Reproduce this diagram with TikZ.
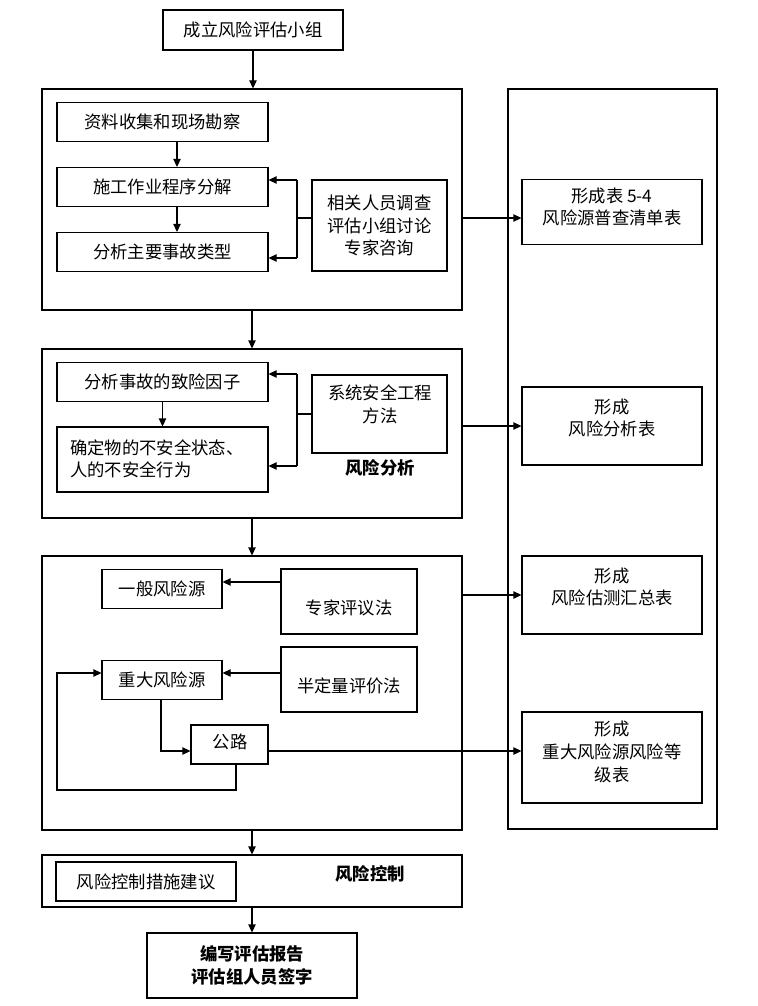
\documentclass[tikz,border=0pt]{standalone}
\usepackage{fontspec}
\setmainfont{Noto Sans CJK SC}
\usetikzlibrary{arrows.meta}
\begin{document}
\begin{tikzpicture}[x=0.75pt,y=-0.75pt,
  box/.style 2 args={draw, line width=0.8pt, inner sep=0pt, align=center, font=\fontsize{13}{17}\selectfont,
    minimum width=#1*0.75pt, minimum height=#2*0.75pt},
  txt/.style={inner sep=0pt, align=center, font=\fontsize{13}{17}\selectfont},
  btxt/.style={inner sep=0pt, align=center, font=\fontsize{13}{17}\selectfont\bfseries},
  arr/.style={line width=0.8pt, -{Triangle[length=6pt,width=5.5pt]}},
  ln/.style={line width=0.8pt}]
\useasboundingbox (0,0) rectangle (757,1006);
% boxes
\node[box={180}{40}] (top) at (253,30) {成立风险评估小组};
\node[box={420}{221}] (G1) at (252,199.5) {};
\node[box={211}{39}] (a1) at (162.5,122) {资料收集和现场勘察};
\node[box={211}{39}] (a2) at (162.5,187) {施工作业程序分解};
\node[box={211}{39}] (a3) at (162.5,252) {分析主要事故类型};
\node[box={135}{91}] (m1) at (379.5,225.5) {相关人员调查\\评估小组讨论\\专家咨询};
\node[box={209}{740}] (R) at (612.5,459) {};
\node[box={180}{65}] (r1) at (612,212) {};
\node[txt] (r1t) at (612,207) {形成表 5-4\\风险源普查清单表};
\node[box={420}{169}] (G2) at (252,433.5) {};
\node[box={211}{39}] (b1) at (162.5,382) {分析事故的致险因子};
\node[box={211}{65}] (b2) at (162.5,459.5) {};
\node[txt, align=left, anchor=west] (b2t) at (70,459) {确定物的不安全状态、\\人的不安全行为};
\node[box={135}{78}] (m2) at (379.5,414) {};
\node[txt] (m2t) at (380,404) {系统安全工程\\方法};
\node[btxt] (fx) at (380,468) {风险分析};
\node[box={180}{78}] (r2) at (612,426) {};
\node[txt] (r2t) at (612,418) {形成\\风险分析表};
\node[box={420}{274}] (G3) at (252,693) {};
\node[box={120}{39}] (c1) at (162,589) {一般风险源};
\node[box={136}{65}] (e1) at (349,601.5) {};
\node[txt] (e1t) at (349,608) {专家评议法};
\node[box={120}{39}] (c2) at (162,680) {重大风险源};
\node[box={136}{65}] (e2) at (349,679.5) {};
\node[txt] (e2t) at (349,686) {半定量评价法};
\node[box={77}{39}] (c3) at (229.5,744.5) {};
\node[txt] (c3t) at (230,742) {公路};
\node[box={180}{78}] (r3) at (612,595) {};
\node[txt] (r3t) at (612,587) {形成\\风险估测汇总表};
\node[box={180}{91}] (r4) at (612,757.5) {};
\node[txt] (r4t) at (612,752) {形成\\重大风险源风险等\\级表};
\node[box={420}{52}] (G4) at (252,881) {};
\node[box={180}{39}] (d1) at (146,881.5) {风险控制措施建议};
\node[btxt] (kz) at (370,874) {风险控制};
\node[box={210}{65}, font=\fontsize{13}{17}\selectfont\bfseries] (fin) at (252,965.5) {编写评估报告\\评估组人员签字};
% helper coordinates
\coordinate (xa) at (177,0);
\coordinate (j1) at (297,218); \coordinate (j1a) at (297,180); \coordinate (j1b) at (297,258);
\coordinate (j2) at (297,414); \coordinate (j2a) at (297,374); \coordinate (j2b) at (297,466);
\coordinate (h2) at (0,426);
\coordinate (h3) at (0,582); \coordinate (h4) at (0,673);
\coordinate (xb) at (161,0); \coordinate (h5) at (0,751);
\coordinate (xc) at (236,0); \coordinate (h6) at (0,790); \coordinate (xd) at (57,0);
\coordinate (h7) at (0,595);
% connectors
\draw[arr] (top.south) -- (top.south |- G1.north);
\draw[arr] (a1.south -| xa) -- (a2.north -| xa);
\draw[arr] (a2.south -| xa) -- (a3.north -| xa);
\draw[ln] (m1.west |- j1) -- (j1);
\draw[ln] (j1a) -- (j1b);
\draw[arr] (j1a) -- (a2.east |- j1a);
\draw[arr] (j1b) -- (a3.east |- j1b);
\draw[arr] (G1.east |- j1) -- (r1.west |- j1);
\draw[arr] (G1.south) -- (G2.north);
\draw[arr] (b1.south) -- (b2.north);
\draw[ln] (m2.west |- j2) -- (j2);
\draw[ln] (j2a) -- (j2b);
\draw[arr] (j2a) -- (b1.east |- j2a);
\draw[arr] (j2b) -- (b2.east |- j2b);
\draw[arr] (G2.east |- h2) -- (r2.west |- h2);
\draw[arr] (G2.south) -- (G3.north);
\draw[arr] (e1.west |- h3) -- (c1.east |- h3);
\draw[arr] (e2.west |- h4) -- (c2.east |- h4);
\draw[arr] (c2.south -| xb) |- (c3.west |- h5);
\draw[arr] (c3.south -| xc) -- (xc |- h6) -| (xd |- h4) -- (c2.west |- h4);
\draw[arr] (c3.east |- h5) -- (r4.west |- h5);
\draw[arr] (G3.east |- h7) -- (r3.west |- h7);
\draw[arr] (G3.south) -- (G4.north);
\draw[arr] (G4.south) -- (fin.north);
\end{tikzpicture}
\end{document}
